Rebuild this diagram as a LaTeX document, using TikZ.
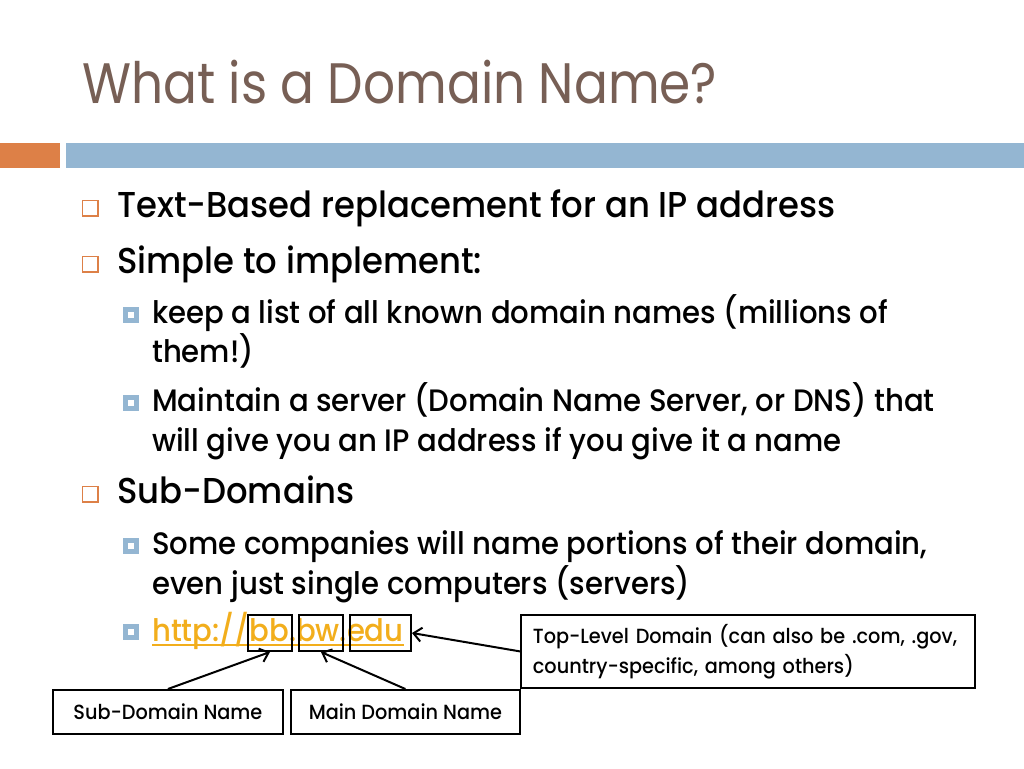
\documentclass[tikz,border=0pt]{standalone}
\usepackage{fontspec}
\setmainfont[FakeStretch=0.94, UprightFont=* Medium]{Poppins}
\newfontfamily\titlefont[FakeStretch=0.88]{Poppins}
\usetikzlibrary{arrows.meta,positioning}
\definecolor{titlebrown}{HTML}{775F55}
\definecolor{accorange}{HTML}{DD8047}
\definecolor{accblue}{HTML}{94B6D2}
\definecolor{linkyellow}{HTML}{F2AE1C}

\begin{document}
\begin{tikzpicture}[x=1pt,y=-1pt,
    lvlone/.style={anchor=base west, inner sep=0, font=\fontsize{36}{40}\selectfont},
    lvltwo/.style={anchor=base west, inner sep=0, font=\fontsize{31}{36}\selectfont},
    bulletone/.style={draw=accorange, line width=1.5, fill=white, minimum size=15.5, inner sep=0},
    bullettwo/.style={draw=accblue, line width=5, fill=white, minimum size=11, inner sep=0},
    callout/.style={draw, line width=1.8, anchor=north west, inner sep=0, font=\fontsize{20.5}{30}\selectfont},
    tagbox/.style={draw, line width=2, anchor=north west, minimum height=36, inner sep=0},
    pointer/.style={line width=2, -{Straight Barb[length=8,width=14]}}]
    \useasboundingbox (0,0) rectangle (1024,768);
    % Titlu
    \node[anchor=base west, inner sep=0, text=titlebrown, font=\titlefont\fontsize{57}{60}\selectfont] (title) at (82,103) {What is a Domain Name?};
    % Benzi
    \fill[accorange] (0,143) rectangle (60,168);
    \fill[accblue] (66,143) rectangle (1024,168);
    % Puncte de nivel 1
    \node[bulletone] (b1) at (90,208) {};
    \node[lvlone] (t1) at (117,217) {Text-Based replacement for an IP address};
    \node[bulletone] (b2) at (90,264) {};
    \node[lvlone] (t2) at (117,273) {Simple to implement:};
    % Puncte de nivel 2
    \node[bullettwo] (b3) at (131,315) {};
    \node[lvltwo] (t3) at (152,323) {keep a list of all known domain names (millions of};
    \node[lvltwo] (t3b) at (152,362) {them!)};
    \node[bullettwo] (b4) at (131,403) {};
    \node[lvltwo] (t4) at (152,411) {Maintain a server (Domain Name Server, or DNS) that};
    \node[lvltwo] (t4b) at (152,451) {will give you an IP address if you give it a name};
    \node[bulletone] (b5) at (90,494) {};
    \node[lvlone] (t5) at (117,503) {Sub-Domains};
    \node[bullettwo] (b6) at (131,546) {};
    \node[lvltwo] (t6) at (152,554) {Some companies will name portions of their domain,};
    \node[lvltwo] (t6b) at (152,594) {even just single computers (servers)};
    \node[bullettwo] (b7) at (131,632) {};
    \node[lvltwo, text=linkyellow] (url) at (152,641) {http://bb.bw.edu};
    \draw[linkyellow, line width=1.5] ([yshift=-4]url.base west) -- ([yshift=-4]url.base east);
    % Casete in jurul adresei
    \node[tagbox, minimum width=44] (bbbox) at (247,614) {};
    \node[tagbox, minimum width=44] (bwbox) at (298,614) {};
    \node[tagbox, minimum width=61] (edubox) at (349,614) {};
    % Explicatii
    \node[callout, text width=430, minimum height=73, inner xsep=12, align=left] (tld) at (520,614) {Top-Level Domain (can also be .com, .gov,\\country-specific, among others)};
    \node[callout, minimum width=230, minimum height=44] (subname) at (52,689) {Sub-Domain Name};
    \node[callout, minimum width=229, minimum height=44] (mainname) at (290,689) {Main Domain Name};
    % Sageti
    \draw[pointer] (subname.north) -- (bbbox.south);
    \draw[pointer] (mainname.north) -- (bwbox.south);
    \draw[pointer] (tld.west) -- (edubox.east);
\end{tikzpicture}
\end{document}
